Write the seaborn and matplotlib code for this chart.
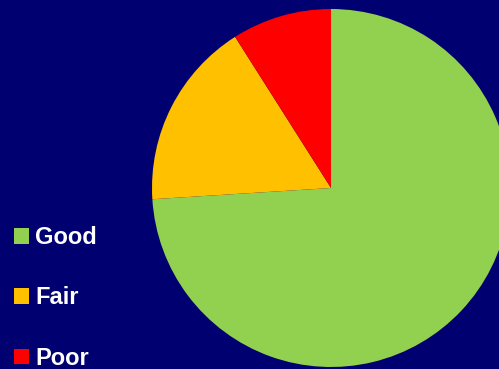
import matplotlib
matplotlib.use("Agg")
import matplotlib.pyplot as plt
import seaborn as sns

# Data (percent)
categories = ["Good", "Fair", "Poor"]
shares = [74, 17, 9]
slice_colors = ["#92D050", "#FFC000", "#FF0000"]
bg = "#000070"

sns.set_theme(style="white")
plt.rcParams["font.family"] = ["Liberation Sans", "DejaVu Sans"]

fig = plt.figure(figsize=(4.99, 3.69), dpi=100, facecolor=bg)
# pie centred near (331, 188) px with a radius of about 179 px
ax = fig.add_axes([152 / 499, 2 / 369, 358 / 499, 358 / 369])
ax.set_facecolor(bg)

wedges, _ = ax.pie(shares, colors=sns.color_palette(slice_colors),
                   startangle=90, counterclock=False, radius=1,
                   wedgeprops=dict(linewidth=0))
ax.set_xlim(-1, 1)
ax.set_ylim(-1, 1)
ax.set_aspect("equal")
ax.axis("off")

leg = fig.legend(wedges, categories, loc="upper left",
                 bbox_to_anchor=(14 / 499, 1 - 226 / 369),
                 frameon=False, borderpad=0, borderaxespad=0,
                 handlelength=0.64, handleheight=0.64, handletextpad=0.25,
                 labelspacing=1.58,
                 prop=dict(family="Liberation Sans", weight="bold", size=17))
for t in leg.get_texts():
    t.set_color("white")

fig.savefig("out.png", dpi=100, facecolor=bg)
